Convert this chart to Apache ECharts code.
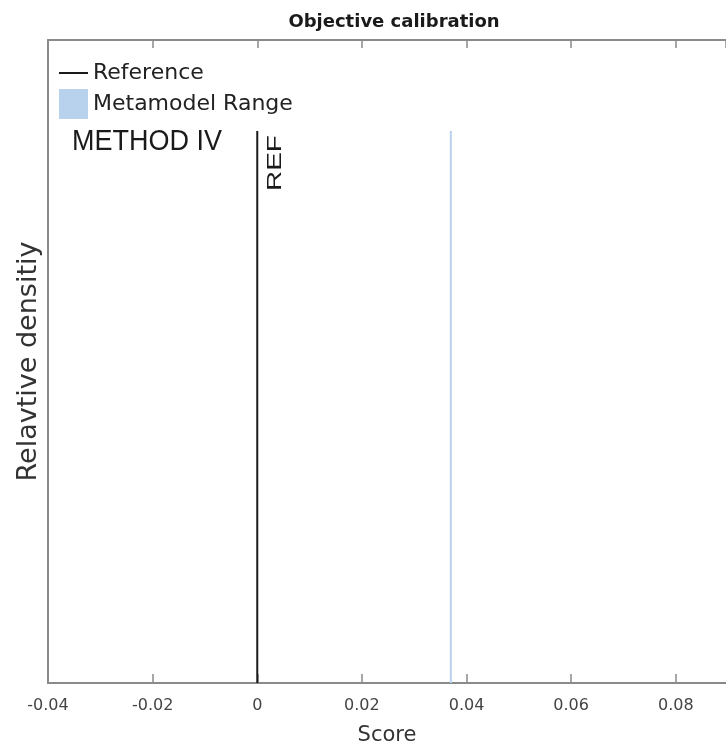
<!DOCTYPE html>
<html>
<head>
<meta charset="utf-8">
<script src="https://cdn.jsdelivr.net/npm/echarts@6/dist/echarts.min.js"></script>
<style>
html,body{margin:0;padding:0;background:#fff;}
#chart{width:726px;height:751px;}
</style>
</head>
<body>
<div id="chart"></div>
<script>
// ---- data ----
const titleText = 'Objective calibration';
const xAxisTitle = 'Score';
const yAxisTitle = 'Relavtive densitiy';
const seriesNames = ['Reference', 'Metamodel Range'];
const referenceScore = [0];          // x position of reference line
const referenceHeight = [1];         // relative density height
const metamodelScore = [0.037];      // x position of metamodel range
const metamodelHeight = [1];
const xMin = -0.04, xMax = 0.0896, xStep = 0.02;
const yMin = 0, yMax = 1.165;
const methodLabel = 'METHOD IV';
const refLabel = 'REF';

const FONT = 'DejaVu Sans';
const chart = echarts.init(document.getElementById('chart'), null, {renderer: 'canvas'});

function lineRenderer(color, withLabel) {
  return function (params, api) {
    const x = api.value(0), h = api.value(1);
    const p0 = api.coord([x, 0]);
    const p1 = api.coord([x, h]);
    const children = [{
      type: 'line',
      shape: {x1: p0[0], y1: p0[1], x2: p1[0], y2: p1[1]},
      style: {stroke: color, lineWidth: 2}
    }];
    if (withLabel) {
      children.push({
        type: 'text',
        x: p1[0] + 18,
        y: p1[1] + 4,
        rotation: Math.PI / 2,
        scaleX: 1.33,
        style: {
          text: refLabel,
          font: '21px "Liberation Sans"',
          fill: '#1a1a1a',
          align: 'right',
          verticalAlign: 'middle'
        }
      });
    }
    return {type: 'group', children: children};
  };
}

const option = {
  animation: false,
  backgroundColor: '#ffffff',
  title: {
    text: titleText,
    left: 389,
    top: 8,
    textAlign: 'center',
    textStyle: {fontFamily: FONT, fontSize: 18, fontWeight: 'bold', color: '#1a1a1a'}
  },
  legend: {
    orient: 'vertical',
    left: 54,
    top: 57,
    itemWidth: 29,
    itemHeight: 30,
    itemGap: 5,
    symbolKeepAspect: true,
    textStyle: {fontFamily: FONT, fontSize: 22, color: '#222'},
    data: [
      {name: seriesNames[0], icon: 'path://M0,0H29V2H0Z'},
      {name: seriesNames[1], icon: 'rect'}
    ]
  },
  grid: {left: 48, right: 0, top: 40, bottom: 68},
  xAxis: [{
    type: 'value',
    position: 'bottom',
    min: xMin, max: xMax, interval: xStep,
    name: xAxisTitle,
    nameLocation: 'middle',
    nameGap: 42,
    nameTextStyle: {fontFamily: FONT, fontSize: 21, color: '#333'},
    axisLine: {show: true, onZero: false, lineStyle: {color: '#8a8a8a', width: 2}},
    axisTick: {show: true, inside: true, length: 9, lineStyle: {color: '#8a8a8a', width: 1.5}},
    axisLabel: {show: true, margin: 15, fontFamily: FONT, fontSize: 16, color: '#444', showMaxLabel: false},
    splitLine: {show: false}
  }, {
    type: 'value',
    position: 'top',
    min: xMin, max: xMax, interval: xStep,
    axisLine: {show: true, onZero: false, lineStyle: {color: '#8a8a8a', width: 2}},
    axisTick: {show: true, inside: true, length: 8, lineStyle: {color: '#8a8a8a', width: 1.5}},
    axisLabel: {show: false},
    splitLine: {show: false}
  }],
  yAxis: {
    type: 'value',
    min: yMin, max: yMax,
    name: yAxisTitle,
    nameLocation: 'middle',
    nameGap: 6,
    nameTextStyle: {fontFamily: FONT, fontSize: 27, color: '#333'},
    axisLine: {show: true, onZero: false, lineStyle: {color: '#8a8a8a', width: 2}},
    axisTick: {show: false},
    axisLabel: {show: false},
    splitLine: {show: false}
  },
  graphic: [{
    type: 'text',
    x: 72,
    y: 142,
    scaleY: 1.12,
    style: {
      text: methodLabel,
      font: '27px "Liberation Sans"',
      fill: '#1a1a1a',
      verticalAlign: 'middle'
    }
  }],
  series: [{
    name: seriesNames[0],
    type: 'custom',
    xAxisIndex: 0, yAxisIndex: 0,
    itemStyle: {color: '#1a1a1a'},
    renderItem: lineRenderer('#1a1a1a', true),
    data: referenceScore.map((v, i) => [v, referenceHeight[i]])
  }, {
    name: seriesNames[1],
    type: 'custom',
    xAxisIndex: 0, yAxisIndex: 0,
    itemStyle: {color: '#b8d1ec'},
    renderItem: lineRenderer('#b8d1ec', false),
    data: metamodelScore.map((v, i) => [v, metamodelHeight[i]])
  }]
};
chart.setOption(option);
</script>
</body>
</html>
